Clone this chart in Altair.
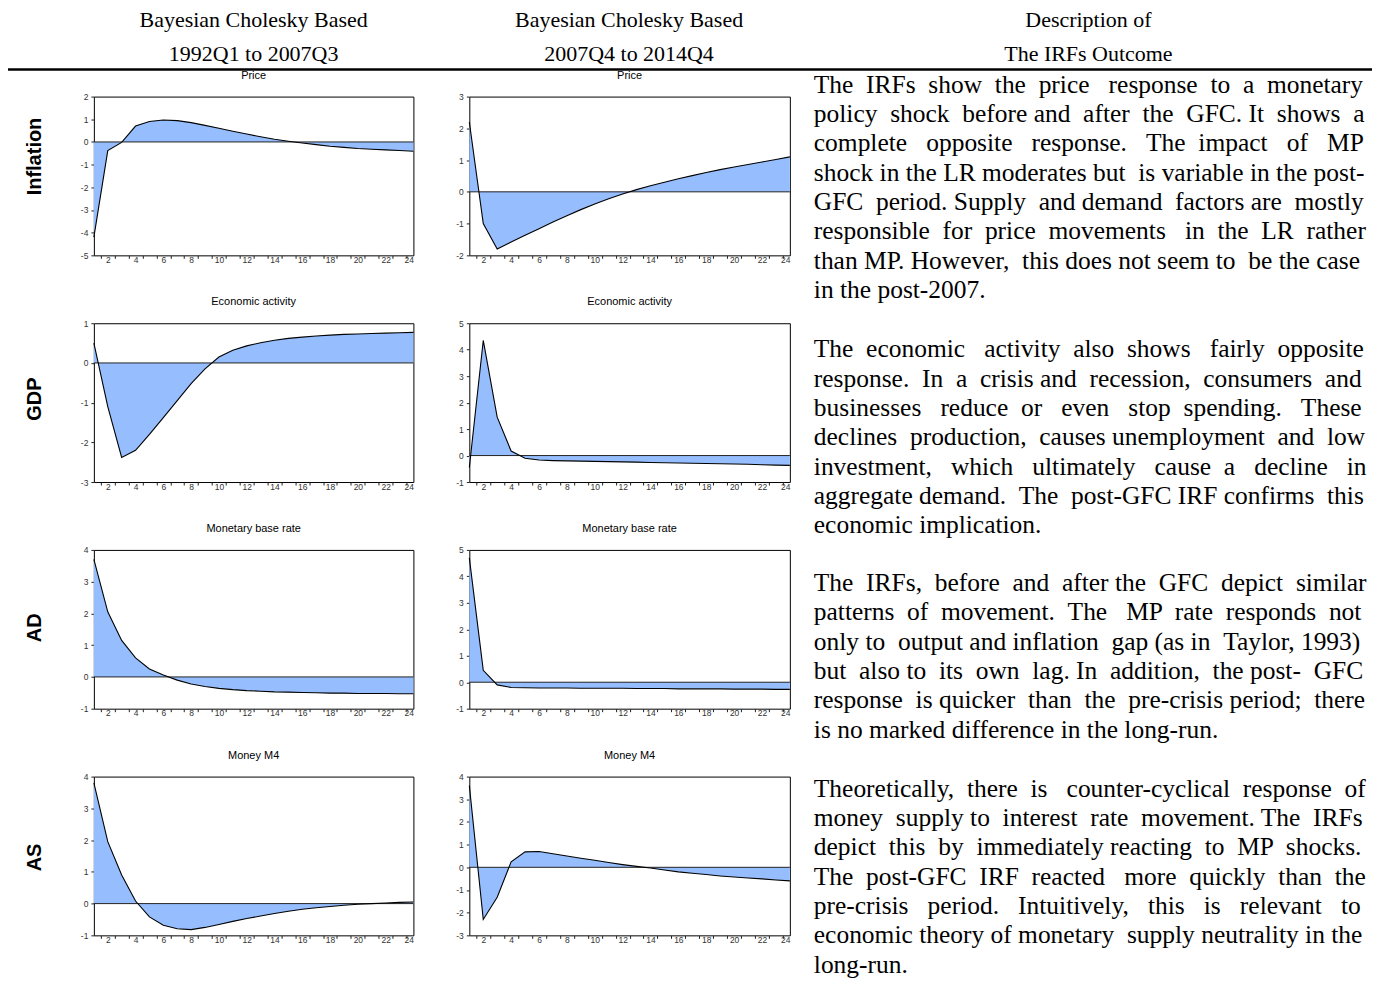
import altair as alt
import pandas as pd

SANS = "Liberation Sans, Arial, sans-serif"
SERIF = "Liberation Serif, Times New Roman, serif"
FILL = "#96BEFF"

periods = list(range(1, 25))
panel_titles = ["Price", "Economic activity", "Monetary base rate", "Money M4"]
row_labels = ["Inflation", "GDP", "AD", "AS"]

pre_gfc = [
    [-4.2, -0.38, -0.02, 0.7, 0.9, 0.97, 0.94, 0.85, 0.73, 0.6, 0.47, 0.35,
     0.23, 0.12, 0.03, -0.05, -0.12, -0.19, -0.24, -0.29, -0.32, -0.35, -0.38, -0.41],
    [0.5, -1.1, -2.38, -2.2, -1.8, -1.38, -0.95, -0.52, -0.15, 0.15, 0.32, 0.43,
     0.51, 0.57, 0.62, 0.65, 0.68, 0.7, 0.72, 0.73, 0.74, 0.75, 0.76, 0.77],
    [3.7, 2.05, 1.15, 0.6, 0.25, 0.06, -0.1, -0.22, -0.3, -0.36, -0.4, -0.43,
     -0.45, -0.47, -0.48, -0.49, -0.5, -0.51, -0.51, -0.52, -0.52, -0.52, -0.53, -0.53],
    [3.8, 1.95, 0.9, 0.08, -0.42, -0.68, -0.79, -0.82, -0.75, -0.66, -0.56, -0.47,
     -0.39, -0.31, -0.24, -0.18, -0.13, -0.09, -0.05, -0.02, 0.0, 0.02, 0.04, 0.05],
]
post_gfc = [
    [2.2, -1.0, -1.8, -1.58, -1.37, -1.16, -0.95, -0.75, -0.56, -0.38, -0.22, -0.07,
     0.07, 0.19, 0.3, 0.41, 0.51, 0.61, 0.7, 0.78, 0.86, 0.94, 1.02, 1.1],
    [-0.45, 4.35, 1.45, 0.17, -0.1, -0.17, -0.19, -0.2, -0.21, -0.22, -0.23, -0.24,
     -0.25, -0.26, -0.27, -0.28, -0.29, -0.3, -0.31, -0.32, -0.33, -0.35, -0.36, -0.37],
    [4.7, 0.45, -0.1, -0.2, -0.21, -0.22, -0.22, -0.22, -0.23, -0.23, -0.23, -0.23,
     -0.24, -0.24, -0.24, -0.25, -0.25, -0.25, -0.25, -0.26, -0.26, -0.26, -0.27, -0.27],
    [3.6, -2.3, -1.32, 0.24, 0.68, 0.7, 0.6, 0.5, 0.4, 0.31, 0.21, 0.12,
     0.04, -0.03, -0.12, -0.2, -0.26, -0.32, -0.38, -0.43, -0.47, -0.51, -0.56, -0.6],
]
pre_domains = [(-5, 2), (-3, 1), (-1, 4), (-1, 4)]
post_domains = [(-2, 3), (-1, 5), (-1, 5), (-3, 4)]

x_label_values = list(range(2, 25, 2))
x_tick_values = [i + 0.5 for i in range(1, 24)]

header_left = "Bayesian Cholesky Based\n1992Q1 to 2007Q3"
header_mid = "Bayesian Cholesky Based\n2007Q4 to 2014Q4"
header_right = "Description of\nThe IRFs Outcome"

descriptions = [
    ["The IRFs show the price response to a monetary",
     "policy shock before and after the GFC. It shows a",
     "complete opposite response. The impact of MP",
     "shock in the LR moderates but is variable in the post-",
     "GFC period. Supply and demand factors are mostly",
     "responsible for price movements in the LR rather",
     "than MP. However, this does not seem to be the case",
     "in the post-2007."],
    ["The economic activity also shows fairly opposite",
     "response. In a crisis and recession, consumers and",
     "businesses reduce or even stop spending. These",
     "declines production, causes unemployment and low",
     "investment, which ultimately cause a decline in",
     "aggregate demand. The post-GFC IRF confirms this",
     "economic implication."],
    ["The IRFs, before and after the GFC depict similar",
     "patterns of movement. The MP rate responds not",
     "only to output and inflation gap (as in Taylor, 1993)",
     "but also to its own lag. In addition, the post- GFC",
     "response is quicker than the pre-crisis period; there",
     "is no marked difference in the long-run."],
    ["Theoretically, there is counter-cyclical response of",
     "money supply to interest rate movement. The IRFs",
     "depict this by immediately reacting to MP shocks.",
     "The post-GFC IRF reacted more quickly than the",
     "pre-crisis period. Intuitively, this is relevant to",
     "economic theory of monetary supply neutrality in the",
     "long-run."],
]

# layout constants (pixels)
LABEL_W, LEFT_W, RIGHT_W, DESC_W = 30, 320, 321, 480
ROW_H = 159
label_y = [60, 76, 78, 81]
DESC_FS = 25.5
DESC_TARGET = 552
desc_y = [-24, 14, 21, 0]
NOFRAME = alt.ViewBackground(strokeWidth=0)

# approximate Times/Liberation Serif advance widths (1/1000 em) for justification
_TW = {" ": 250, ",": 250, ".": 250, "-": 333, "(": 333, ")": 333, ";": 278, ":": 278}
_TW.update({d: 500 for d in "0123456789"})
_TW.update(dict(zip("ABCDEFGHIJKLMNOPQRSTUVWXYZ",
                    [722, 667, 667, 722, 611, 556, 722, 722, 333, 389, 722, 611, 889,
                     722, 722, 556, 722, 667, 556, 611, 722, 722, 944, 722, 722, 611])))
_TW.update(dict(zip("abcdefghijklmnopqrstuvwxyz",
                    [444, 500, 444, 500, 444, 333, 500, 500, 278, 278, 500, 278, 778,
                     500, 500, 500, 500, 333, 389, 278, 500, 500, 722, 500, 500, 444])))


def text_w(s):
    return sum(_TW.get(c, 500) for c in s) / 1000.0 * DESC_FS


def justify(line):
    words = line.split(" ")
    gaps = len(words) - 1
    space = 250 / 1000.0 * DESC_FS
    extra = int(round((DESC_TARGET - text_w(line)) / space))
    if gaps <= 0 or extra <= 0:
        return line
    out = words[0]
    acc = 0
    for k in range(gaps):
        target_acc = round(extra * (k + 1) / gaps)
        n = target_acc - acc
        acc = target_acc
        out += " " + "\u00a0" * n + words[k + 1]
    return out


def panel(vals, dom, title, width):
    df = pd.DataFrame({"h": periods, "v": vals})
    xs = alt.Scale(domain=[1, 24], nice=False, zero=False)
    ys = alt.Scale(domain=[dom[0], dom[1]], nice=False)
    yax = alt.Axis(values=list(range(dom[0], dom[1] + 1)), title=None, grid=False,
                   domain=False, tickSize=3, tickColor="#222", labelFontSize=8.5,
                   labelColor="#333", labelPadding=3, labelFont=SANS,
                   labelExpr="replace(datum.label, '\u2212', '-')")
    area = alt.Chart(df).mark_area(color=FILL, opacity=1).encode(
        x=alt.X("h:Q", scale=xs,
                axis=alt.Axis(values=x_tick_values, labels=False, tickSize=3,
                              tickColor="#222", grid=False, domain=False, title=None,
                              orient="bottom")),
        y=alt.Y("v:Q", scale=ys, axis=yax),
        y2=alt.datum(0),
    )
    zero = alt.Chart(pd.DataFrame({"z": [0]})).mark_rule(color="#222", strokeWidth=1).encode(
        y=alt.Y("z:Q", scale=ys, axis=None)
    )
    line = alt.Chart(df).mark_line(color="black", strokeWidth=1.1).encode(
        x=alt.X("h:Q", scale=xs,
                axis=alt.Axis(values=x_label_values, ticks=False, tickSize=0,
                              labelPadding=0, labelFontSize=8.5, labelColor="#333",
                              labelFont=SANS, grid=False, domain=False, title=None,
                              orient="bottom")),
        y=alt.Y("v:Q", scale=ys, axis=None),
    )
    return alt.layer(area, zero, line).resolve_axis(x="independent", y="independent").properties(
        width=width, height=ROW_H,
        title=alt.TitleParams(title, fontSize=11, font=SANS, fontWeight="normal",
                              color="black", offset=1, frame="group",
                              anchor="middle", baseline="bottom"),
        view=alt.ViewBackground(stroke="black", strokeWidth=1),
    )


def label_chart(i):
    lab = alt.Chart(pd.DataFrame({"label": [row_labels[i]]})).mark_text(
        angle=270, fontSize=20, fontWeight="bold", font=SANS, color="black",
        align="center", baseline="middle"
    ).encode(text="label:N", x=alt.value(27), y=alt.value(label_y[i]))
    layers = [lab]
    if i == 0:
        for txt, cx in [(header_left, 246), (header_mid, 622), (header_right, 1082)]:
            layers.append(
                alt.Chart(pd.DataFrame({"t": [txt]})).mark_text(
                    font=SERIF, fontSize=22, color="black", align="center",
                    baseline="middle", lineBreak="\n", lineHeight=34
                ).encode(text="t:N", x=alt.value(cx), y=alt.value(-77))
            )
        layers.append(
            alt.Chart(pd.DataFrame({"r": [0]})).mark_rule(color="black", strokeWidth=2.5).encode(
                x=alt.value(0), x2=alt.value(1366), y=alt.value(-27)
            )
        )
    return alt.layer(*layers).properties(width=LABEL_W, height=ROW_H, view=NOFRAME)


def desc_chart(i):
    lines = descriptions[i]
    body = [justify(l) for l in lines[:-1]] + [lines[-1]]
    return alt.Chart(pd.DataFrame({"t": ["\n".join(body)]})).mark_text(
        font=SERIF, fontSize=DESC_FS, color="black", align="left", baseline="top",
        lineBreak="\n", lineHeight=29.4
    ).encode(text="t:N", x=alt.value(-32), y=alt.value(desc_y[i])).properties(
        width=DESC_W, height=ROW_H, view=NOFRAME
    )


cells = []
for i in range(4):
    cells.append(label_chart(i))
    cells.append(panel(pre_gfc[i], pre_domains[i], panel_titles[i], LEFT_W))
    cells.append(panel(post_gfc[i], post_domains[i], panel_titles[i], RIGHT_W))
    cells.append(desc_chart(i))

chart = alt.concat(*cells, columns=4, spacing={"row": 68, "column": 56}, bounds="flush").properties(
    padding={"top": 0, "left": -2, "right": 0, "bottom": 0}
).configure_view(strokeWidth=0).configure(font=SANS)

chart.save("out.html", embed_options={"renderer": "svg", "actions": False})
